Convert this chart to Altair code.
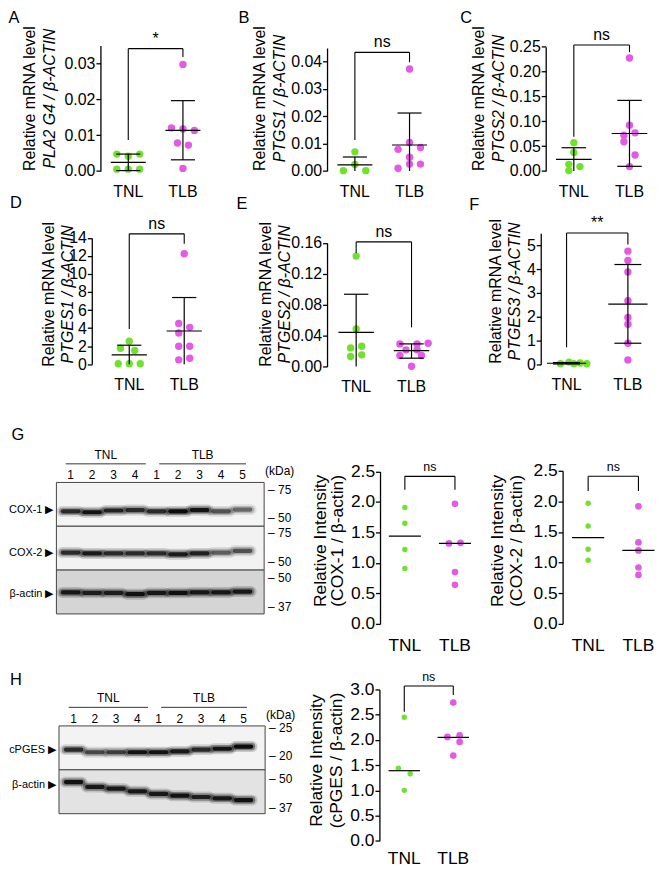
import altair as alt
import pandas as pd

W, H = 656, 861
M = 8


def px(v):
    return v - M


FONT = "Liberation Sans"
GREEN = "#71e12e"
MAGENTA = "#e25ae6"
groups = ["TNL", "TLB"]

# ====================== values ======================
# A  PLA2 G4 / beta-ACTIN
A_tnl = [0.0047, 0.0041, 0.0047, 0.0005, 0.0005, 0.0005]
A_tnl_j = [-0.21, 0.0, 0.21, -0.21, 0.0, 0.21]
A_tlb = [0.0297, 0.0120, 0.0117, 0.0113, 0.0078, 0.0072, 0.0007]
A_tlb_j = [0.0, -0.21, 0.0, 0.21, -0.10, 0.10, 0.0]
A_mean = [0.0024, 0.0113]
A_lo = [0.0001, 0.0031]
A_hi = [0.0047, 0.0196]
A_br = [0.0341, 0.0086, 0.0318]

# B  PTGS1
B_tnl = [0.0070, 0.0024, 0.0001, 0.0001]
B_tnl_j = [0.0, 0.0, -0.21, 0.20]
B_tlb = [0.0373, 0.0079, 0.0104, 0.0086, 0.0050, 0.0010, 0.0025, 0.0025]
B_tlb_j = [0.0, -0.21, 0.0, 0.20, 0.0, -0.21, 0.0, 0.20]
B_mean = [0.0022, 0.0095]
B_lo = [0.0, 0.0]
B_hi = [0.0051, 0.0212]
B_br = [0.0434, 0.0113, 0.0398]

# C  PTGS2
C_tnl = [0.0567, 0.0373, 0.0133, 0.0087, 0.0007]
C_tnl_j = [0.0, 0.0, -0.09, 0.11, -0.09]
C_tlb = [0.2273, 0.0920, 0.0720, 0.0767, 0.0587, 0.0320, 0.0087]
C_tlb_j = [0.0, 0.0, -0.10, 0.10, -0.10, 0.10, 0.0]
C_mean = [0.0233, 0.0753]
C_lo = [0.0, 0.0093]
C_hi = [0.0467, 0.1420]
C_br = [0.2533, 0.0687, 0.2390]

# D  PTGES1
D_tnl = [2.54, 1.76, 1.51, 0.04, 0.04, 0.04]
D_tnl_j = [0.0, -0.16, 0.10, -0.20, 0.0, 0.20]
D_tlb = [12.24, 4.52, 4.08, 3.46, 1.99, 1.99, 0.48, 0.66]
D_tlb_j = [0.0, -0.10, 0.10, -0.10, -0.10, 0.10, -0.10, 0.10]
D_mean = [1.03, 3.68]
D_lo = [0.0, 0.0]
D_hi = [2.10, 7.39]
D_br = [14.45, 3.9, 13.35]

# E  PTGES2
E_tnl = [0.1429, 0.0485, 0.0240, 0.0262, 0.0129, 0.0150]
E_tnl_j = [0.0, 0.0, -0.10, 0.10, -0.10, 0.10]
E_tlb = [0.0292, 0.0292, 0.0300, 0.0215, 0.0215, 0.0142, 0.0142, 0.0002]
E_tlb_j = [-0.21, 0.10, 0.30, -0.10, 0.10, -0.21, 0.18, 0.0]
E_mean = [0.0442, 0.0206]
E_lo = [0.0, 0.0107]
E_hi = [0.0935, 0.0292]
E_br = [0.1613, 0.147, 0.0506]

# F  PTGES3
F_tnl = [0.03, 0.10, 0.03, 0.06, 0.03]
F_tnl_j = [-0.10, 0.04, 0.12, 0.22, 0.33]
F_tlb = [4.75, 4.36, 3.88, 2.67, 1.97, 1.69, 0.89, 0.19]
F_tlb_j = [0.0, 0.0, 0.0, 0.0, 0.0, 0.0, 0.0, 0.0]
F_mean = [0.05, 2.53]
F_lo = [0.02, 0.89]
F_hi = [0.08, 4.19]
F_br = [5.51, 0.72, 5.03]

# G  COX-1 / COX-2 densitometry
G1_tnl = [1.91, 1.65, 1.22, 0.91]
G1_tnl_j = [0.0, 0.0, 0.0, 0.0]
G1_tlb = [1.97, 1.32, 1.33, 0.85, 0.64]
G1_tlb_j = [0.0, -0.12, 0.11, 0.0, 0.0]
G1_mean = [1.44, 1.32]
G1_br = [2.42, 2.20, 2.20]

G2_tnl = [1.97, 1.60, 1.22, 1.04]
G2_tnl_j = [0.0, 0.0, 0.0, 0.0]
G2_tlb = [1.92, 1.33, 1.20, 0.92, 0.80]
G2_tlb_j = [0.0, 0.0, 0.0, 0.0, 0.0]
G2_mean = [1.41, 1.20]
G2_br = [2.41, 2.17, 2.17]

# H  cPGES densitometry
H_tnl = [2.45, 1.44, 1.33, 1.00]
H_tnl_j = [0.0, -0.12, 0.12, 0.0]
H_tlb = [2.74, 2.06, 2.09, 1.96, 1.69]
H_tlb_j = [0.0, -0.12, 0.13, 0.13, 0.0]
H_mean = [1.39, 2.05]
H_br = [3.07, 2.56, 2.89]

# Western blots (lane band darkness 0-1, band migration in strip units)
lane_labels = ["1", "2", "3", "4", "1", "2", "3", "4", "5"]
G_strips = ["COX-1", "COX-2", "β-actin"]
G_row_pos = [0.62, 1.60, 2.55]
G_cox1_pos = [0.66, 0.68, 0.64, 0.63, 0.66, 0.66, 0.63, 0.66, 0.62]
G_cox1_int = [0.75, 0.90, 0.80, 0.75, 0.75, 0.95, 0.90, 0.55, 0.45]
G_cox2_pos = [1.60, 1.62, 1.62, 1.62, 1.62, 1.64, 1.62, 1.60, 1.56]
G_cox2_int = [0.75, 0.85, 0.75, 0.75, 0.75, 0.85, 0.80, 0.50, 0.55]
G_act_pos = [2.51, 2.52, 2.52, 2.55, 2.52, 2.52, 2.51, 2.51, 2.49]
G_act_int = [0.85, 0.80, 0.80, 0.90, 0.85, 0.90, 0.85, 0.85, 0.85]
G_mw = ["75", "50", "75", "50", "50", "37"]
G_mw_pos = [0.17, 0.81, 1.16, 1.81, 2.18, 2.85]
G_group_span = [[0.77, 4.5], [5.12, 9.16]]

H_strips = ["cPGES", "β-actin"]
H_row_pos = [0.54, 1.34]
H_pges_pos = [0.54, 0.60, 0.60, 0.60, 0.60, 0.58, 0.54, 0.52, 0.47]
H_pges_int = [0.75, 0.60, 0.65, 0.90, 0.90, 0.85, 0.75, 0.90, 0.95]
H_act_pos = [1.28, 1.39, 1.43, 1.49, 1.55, 1.59, 1.62, 1.65, 1.69]
H_act_int = [0.90, 0.85, 0.85, 0.85, 0.85, 0.90, 0.80, 0.85, 0.90]
H_mw = ["25", "20", "50", "37"]
H_mw_pos = [0.05, 0.69, 1.22, 1.86]
H_group_span = [[0.77, 4.5], [5.12, 9.16]]

letters = ["A", "B", "C", "D", "E", "F", "G", "H"]

# ====================== layout (page pixels) ======================
LAYOUT = {
    "A": dict(ax=101, xr=212, x0=129, x1=184, yt=43, yb=169.3, t1=30, t2=50, ty=96),
    "B": dict(ax=329, xr=438, x0=357, x1=412, yt=45.6, yb=169.3, t1=261, t2=281, ty=96),
    "C": dict(ax=549, xr=660.7, x0=577.3, x1=633.3, yt=44.3, yb=169.3, t1=481.5, t2=501.5, ty=96),
    "D": dict(ax=92.3, xr=213.3, x0=130, x1=185.3, yt=236.7, yb=363.7, t1=49, t2=68, ty=293),
    "E": dict(ax=329, xr=441.7, x0=358.3, x1=414, yt=241.7, yb=366, t1=267, t2=286.7, ty=293),
    "F": dict(ax=544, xr=660.7, x0=570, x1=631.7, yt=232, yb=364, t1=499, t2=517.3, ty=290),
    "G1": dict(ax=382.3, xr=482.3, x0=407.3, x1=457.7, yt=471.7, yb=625, t1=322, t2=340, ty=541),
    "G2": dict(ax=566, xr=664, x0=591.7, x1=642.3, yt=471, yb=625, t1=501, t2=520, ty=541),
    "H": dict(ax=381.7, xr=480, x0=406.7, x1=456, yt=691, yb=843.3, t1=318.3, t2=339, ty=762),
}
LETTER_POS = [(8.5, 20), (240, 20), (463, 20), (10, 207), (238, 208), (472, 209), (11.5, 440), (10, 687)]

BLOT_G = dict(left=56.7, right=265.7, top=482.7, bottom=615, lane1=71, lane9=244,
              fills=["#f4f4f4", "#f2f2f2", "#d5d5d5"])
BLOT_H = dict(left=59.3, right=266.7, top=727.7, bottom=816, lane1=74, lane9=245,
              fills=["#f3f3f3", "#e3e3e3"])


def scatter_panel(key, tnl, tnl_j, tlb, tlb_j, mean, br, sig, ydom, yvals, yfmt,
                  t1, t2, italic2, fs, sig_fs, dot0, dot1, lo=None, hi=None, xlab_dy=26):
    L = LAYOUT[key]
    step = L["x1"] - L["x0"]
    xs = alt.Scale(domain=[(L["ax"] - L["x0"]) / step, (L["xr"] - L["x0"]) / step],
                   range=[px(L["ax"]), px(L["xr"])], nice=False, zero=False)
    ys = alt.Scale(domain=ydom, range=[px(L["yb"]), px(L["yt"])], nice=False, zero=False)

    pts = pd.DataFrame({
        "g": [0] * len(tnl) + [1] * len(tlb),
        "grp": [groups[0]] * len(tnl) + [groups[1]] * len(tlb),
        "v": tnl + tlb,
        "j": tnl_j + tlb_j,
    })
    xaxis = alt.Axis(orient="bottom", offset=px(L["yb"]) - H, values=[0, 1], labels=False,
                     title=None, tickSize=4.5, grid=False)
    yaxis = alt.Axis(orient="left", offset=-px(L["ax"]), values=yvals, format=yfmt,
                     title=t1, titleX=L["t1"] - L["ax"], titleY=px(L["ty"]), titleAngle=270,
                     titleAlign="center", titleBaseline="middle", titleFontSize=fs,
                     labelFontSize=fs, tickSize=4.5, labelPadding=1, grid=False)
    yaxis2 = alt.Axis(orient="left", offset=-px(L["ax"]), labels=False, ticks=False,
                      domain=False, grid=False, title=t2, titleX=L["t2"] - L["ax"],
                      titleY=px(L["ty"]), titleAngle=270, titleAlign="center",
                      titleBaseline="middle", titleFontSize=fs,
                      titleFontStyle="italic" if italic2 else "normal")

    points = alt.Chart(pts).transform_calculate(xx="datum.g + datum.j").mark_circle(opacity=1).encode(
        x=alt.X("xx:Q", scale=xs, axis=xaxis),
        y=alt.Y("v:Q", scale=ys, axis=yaxis),
        color=alt.Color("grp:N", scale=alt.Scale(domain=groups, range=[GREEN, MAGENTA]), legend=None),
        size=alt.condition("datum.g == 0", alt.value(dot0), alt.value(dot1)),
    )
    st = pd.DataFrame({"g": [0, 1], "mean": mean, "grp": groups, "base": [ydom[0], ydom[0]]})
    if lo is not None:
        st["lo"] = lo
        st["hi"] = hi
    means = alt.Chart(st).transform_calculate(xa="datum.g - 0.32", xb="datum.g + 0.32").mark_rule(
        color="black", strokeWidth=1.2).encode(
        x=alt.X("xa:Q", scale=xs, axis=None), x2="xb:Q",
        y=alt.Y("mean:Q", scale=ys, axis=yaxis2))
    xlabels = alt.Chart(st).mark_text(font=FONT, fontSize=fs, baseline="alphabetic", dy=xlab_dy,
                                      color="black").encode(
        x=alt.X("g:Q", scale=xs, axis=None), y=alt.Y("base:Q", scale=ys, axis=None), text="grp:N")
    layers = [points, means, xlabels]
    if lo is not None:
        err = alt.Chart(st).mark_rule(color="black", strokeWidth=1.2).encode(
            x=alt.X("g:Q", scale=xs, axis=None),
            y=alt.Y("lo:Q", scale=ys, axis=None), y2="hi:Q")
        caphi = alt.Chart(st).transform_calculate(xa="datum.g - 0.22", xb="datum.g + 0.22").mark_rule(
            color="black", strokeWidth=1.2).encode(
            x=alt.X("xa:Q", scale=xs, axis=None), x2="xb:Q",
            y=alt.Y("hi:Q", scale=ys, axis=None))
        caplo = alt.Chart(st).transform_filter("datum.lo > 0").transform_calculate(
            xa="datum.g - 0.22", xb="datum.g + 0.22").mark_rule(color="black", strokeWidth=1.2).encode(
            x=alt.X("xa:Q", scale=xs, axis=None), x2="xb:Q",
            y=alt.Y("lo:Q", scale=ys, axis=None))
        layers += [err, caphi, caplo]
    seg = pd.DataFrame({"x": [0, 0, 1], "x2": [1, 0, 1], "y": [br[0], br[1], br[2]],
                        "y2": [br[0], br[0], br[0]]})
    bracket = alt.Chart(seg).mark_rule(color="black", strokeWidth=1.1).encode(
        x=alt.X("x:Q", scale=xs, axis=None), x2="x2:Q",
        y=alt.Y("y:Q", scale=ys, axis=None), y2="y2:Q")
    lab = alt.Chart(pd.DataFrame({"x": [0.5], "y": [br[0]], "t": [sig]})).mark_text(
        font=FONT, fontSize=sig_fs, baseline="bottom", dy=-2, color="black").encode(
        x=alt.X("x:Q", scale=xs, axis=None), y=alt.Y("y:Q", scale=ys, axis=None), text="t:N")
    layers += [bracket, lab]
    return alt.layer(*layers).resolve_axis(y="independent")


def blot_panel(B, strips, row_pos, bands, mw, mw_pos, spans):
    n = len(lane_labels)
    sp = (B["lane9"] - B["lane1"]) / (n - 1)
    lo_l = 1 + (B["left"] - B["lane1"]) / sp
    hi_l = 1 + (B["right"] - B["lane1"]) / sp
    xs = alt.Scale(domain=[lo_l, hi_l], range=[px(B["left"]), px(B["right"])], nice=False, zero=False)
    ys = alt.Scale(domain=[0, len(strips)], range=[px(B["top"]), px(B["bottom"])], nice=False, zero=False)
    strip_h = (B["bottom"] - B["top"]) / len(strips)

    sdf = pd.DataFrame({"i": list(range(len(strips))), "i1": [i + 1 for i in range(len(strips))],
                        "x0": [lo_l] * len(strips), "x1": [hi_l] * len(strips), "fill": B["fills"]})
    rects = alt.Chart(sdf).mark_rect(stroke="#444", strokeWidth=1).encode(
        x=alt.X("x0:Q", scale=xs, axis=None), x2="x1:Q",
        y=alt.Y("i:Q", scale=ys, axis=None), y2="i1:Q",
        fill=alt.Fill("fill:N", scale=None))
    layers = [rects]

    rows = []
    for pos_list, int_list in bands:
        for k in range(n):
            rows.append({"lane": k + 1, "pos": pos_list[k], "inten": int_list[k]})
    bdf = pd.DataFrame(rows)
    for sw, f, half in [(11, 0.18, 0.40), (7.5, 0.4, 0.38), (4.2, 0.95, 0.36)]:
        layers.append(
            alt.Chart(bdf).transform_calculate(
                xa="datum.lane - %f" % half, xb="datum.lane + %f" % half, o="datum.inten * %f" % f
            ).mark_rule(color="black", strokeWidth=sw, strokeCap="round").encode(
                x=alt.X("xa:Q", scale=xs, axis=None), x2="xb:Q",
                y=alt.Y("pos:Q", scale=ys, axis=None),
                opacity=alt.Opacity("o:Q", scale=None)))

    ldf = pd.DataFrame({"lane": list(range(1, n + 1)), "t": lane_labels, "pos": [-7 / strip_h] * n})
    layers.append(alt.Chart(ldf).mark_text(font=FONT, fontSize=12, baseline="middle", color="black").encode(
        x=alt.X("lane:Q", scale=xs, axis=None), y=alt.Y("pos:Q", scale=ys, axis=None), text="t:N"))
    rdf = pd.DataFrame({"t": [s + " \u25B6" for s in strips], "pos": row_pos, "x": [lo_l] * len(strips)})
    layers.append(alt.Chart(rdf).mark_text(font=FONT, fontSize=11, align="right", baseline="middle",
                                           dx=-3, color="black").encode(
        x=alt.X("x:Q", scale=xs, axis=None), y=alt.Y("pos:Q", scale=ys, axis=None), text="t:N"))
    mdf = pd.DataFrame({"t": ["\u2013 " + m for m in mw], "pos": mw_pos, "x": [hi_l] * len(mw)})
    layers.append(alt.Chart(mdf).mark_text(font=FONT, fontSize=12, align="left", baseline="middle",
                                           dx=4, color="black").encode(
        x=alt.X("x:Q", scale=xs, axis=None), y=alt.Y("pos:Q", scale=ys, axis=None), text="t:N"))
    kdf = pd.DataFrame({"t": ["(kDa)"], "pos": [-11 / strip_h], "x": [hi_l]})
    layers.append(alt.Chart(kdf).mark_text(font=FONT, fontSize=12, align="left", baseline="middle",
                                           dx=1, color="black").encode(
        x=alt.X("x:Q", scale=xs, axis=None), y=alt.Y("pos:Q", scale=ys, axis=None), text="t:N"))
    gdf = pd.DataFrame({"t": groups, "a": [s[0] for s in spans], "b": [s[1] for s in spans],
                        "c": [(s[0] + s[1]) / 2 for s in spans],
                        "ty": [-27.7 / strip_h] * 2, "uy": [-18.7 / strip_h] * 2})
    layers.append(alt.Chart(gdf).mark_text(font=FONT, fontSize=12, baseline="middle", color="black").encode(
        x=alt.X("c:Q", scale=xs, axis=None), y=alt.Y("ty:Q", scale=ys, axis=None), text="t:N"))
    layers.append(alt.Chart(gdf).mark_rule(color="#333", strokeWidth=1).encode(
        x=alt.X("a:Q", scale=xs, axis=None), x2="b:Q", y=alt.Y("uy:Q", scale=ys, axis=None)))
    return alt.layer(*layers)


mrna = "Relative mRNA level"
panels = [
    scatter_panel("A", A_tnl, A_tnl_j, A_tlb, A_tlb_j, A_mean, A_br, "*", [0, 0.035],
                  [0, 0.01, 0.02, 0.03], ".2f", mrna, "PLA2 G4 / β-ACTIN", True, 16, 16, 55, 55, A_lo, A_hi),
    scatter_panel("B", B_tnl, B_tnl_j, B_tlb, B_tlb_j, B_mean, B_br, "ns", [0, 0.045],
                  [0, 0.01, 0.02, 0.03, 0.04], ".2f", mrna, "PTGS1 / β-ACTIN", True, 16, 16, 55, 55, B_lo, B_hi),
    scatter_panel("C", C_tnl, C_tnl_j, C_tlb, C_tlb_j, C_mean, C_br, "ns", [0, 0.25],
                  [0, 0.05, 0.10, 0.15, 0.20, 0.25], ".2f", mrna, "PTGS2 / β-ACTIN", True, 16, 16, 55, 55, C_lo, C_hi),
    scatter_panel("D", D_tnl, D_tnl_j, D_tlb, D_tlb_j, D_mean, D_br, "ns", [0, 14],
                  [0, 2, 4, 6, 8, 10, 12, 14], "d", mrna, "PTGES1 / β-ACTIN", True, 16, 16, 55, 55, D_lo, D_hi),
    scatter_panel("E", E_tnl, E_tnl_j, E_tlb, E_tlb_j, E_mean, E_br, "ns", [0, 0.16],
                  [0, 0.04, 0.08, 0.12, 0.16], ".2f", mrna, "PTGES2 / β-ACTIN", True, 16, 16, 55, 55, E_lo, E_hi),
    scatter_panel("F", F_tnl, F_tnl_j, F_tlb, F_tlb_j, F_mean, F_br, "**", [0, 5.5],
                  [0, 1, 2, 3, 4, 5], "d", mrna, "PTGES3 / β-ACTIN", True, 16, 16, 55, 55, F_lo, F_hi),
    scatter_panel("G1", G1_tnl, G1_tnl_j, G1_tlb, G1_tlb_j, G1_mean, G1_br, "ns", [0, 2.5],
                  [0, 0.5, 1.0, 1.5, 2.0, 2.5], ".1f", "Relative Intensity", "(COX-1 / β-actin)", False,
                  17.5, 12.5, 30, 45, xlab_dy=27),
    scatter_panel("G2", G2_tnl, G2_tnl_j, G2_tlb, G2_tlb_j, G2_mean, G2_br, "ns", [0, 2.5],
                  [0, 0.5, 1.0, 1.5, 2.0, 2.5], ".1f", "Relative Intensity", "(COX-2 / β-actin)", False,
                  17.5, 12.5, 30, 45, xlab_dy=27),
    scatter_panel("H", H_tnl, H_tnl_j, H_tlb, H_tlb_j, H_mean, H_br, "ns", [0, 3],
                  [0, 0.5, 1.0, 1.5, 2.0, 2.5, 3.0], ".1f", "Relative Intensity", "(cPGES / β-actin)", False,
                  17.5, 12.5, 30, 45, xlab_dy=23.5),
]

blots = [
    blot_panel(BLOT_G, G_strips, G_row_pos,
               [(G_cox1_pos, G_cox1_int), (G_cox2_pos, G_cox2_int), (G_act_pos, G_act_int)],
               G_mw, G_mw_pos, G_group_span),
    blot_panel(BLOT_H, H_strips, H_row_pos,
               [(H_pges_pos, H_pges_int), (H_act_pos, H_act_int)],
               H_mw, H_mw_pos, H_group_span),
]

ldf = pd.DataFrame({"t": letters, "x": [px(p[0]) for p in LETTER_POS], "y": [px(p[1]) for p in LETTER_POS]})
letter_layer = alt.Chart(ldf).mark_text(font=FONT, fontSize=16.5, align="left", baseline="alphabetic",
                                        color="black").encode(
    x=alt.X("x:Q", scale=None), y=alt.Y("y:Q", scale=None), text="t:N")

chart = alt.layer(*panels, *blots, letter_layer).resolve_scale(
    x="independent", y="independent"
).properties(
    width=W, height=H, autosize=alt.AutoSizeParams(type="none"), padding=0
).configure_view(strokeWidth=0).configure_axis(
    labelFont=FONT, titleFont=FONT, labelColor="black", titleColor="black",
    domainColor="black", tickColor="black", domainWidth=1.3, tickWidth=1.3,
    titleFontWeight="normal", grid=False
)

chart.save("out.html", embed_options={"renderer": "svg", "actions": False})
